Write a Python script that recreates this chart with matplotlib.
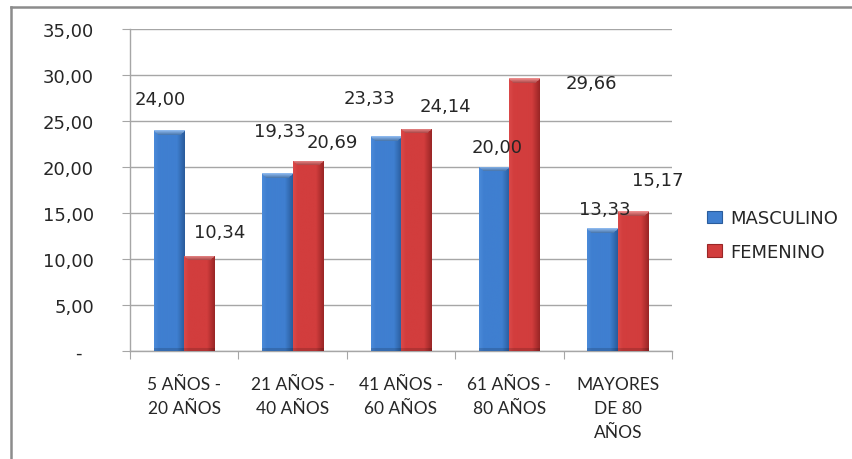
# Distribución por grupo de edad y sexo
import numpy as np
import matplotlib
matplotlib.use('Agg')
import matplotlib.pyplot as plt
from matplotlib.lines import Line2D
from matplotlib.patches import Rectangle
from matplotlib.ticker import FuncFormatter

categorias = ['5 AÑOS -\n20 AÑOS', '21 AÑOS -\n40 AÑOS', '41 AÑOS -\n60 AÑOS',
              '61 AÑOS -\n80 AÑOS', 'MAYORES\nDE 80\nAÑOS']
masculino = [24.00, 19.33, 23.33, 20.00, 13.33]
femenino = [10.34, 20.69, 24.14, 29.66, 15.17]
series = ['MASCULINO', 'FEMENINO']

# desplazamiento de cada etiqueta respecto al centro superior de su barra (px)
off_masc = [(-9, 31), (2, 42), (-16, 38), (3, 20), (2, 19)]
off_fem = [(20, 24), (25, 19), (29, 23), (67, -5), (25, 31)]

azul = ('#5b9ae6', '#3f7fd0', '#2a5c9c')
rojo = ('#e65a5a', '#d23d3d', '#9a2626')


def gradiente(colores, n_filas, n_cols=40, bisel=5):
    # sombreado horizontal tipo Excel + bisel claro arriba
    claro, medio, oscuro = [np.array(matplotlib.colors.to_rgb(c)) for c in colores]
    t = np.linspace(0, 1, n_cols)
    fila = np.empty((n_cols, 3))
    for i, v in enumerate(t):
        if v < 0.15:
            fila[i] = claro * (1 - v / 0.15) * 0.4 + medio * (0.6 + 0.4 * v / 0.15)
        elif v < 0.75:
            fila[i] = medio
        else:
            k = (v - 0.75) / 0.25
            fila[i] = medio * (1 - k) + oscuro * k
    img = np.tile(fila, (n_filas, 1, 1))
    esc = n_cols / 30.0
    for r in range(min(bisel, n_filas)):
        a = int(r * esc)
        img[r, a:n_cols - a] = claro * 0.7 + np.array([1, 1, 1]) * 0.3 * (1 - r / bisel)
    img[-3:] = img[-3:] * 0.85
    return np.clip(img, 0, 1)


fig = plt.figure(figsize=(8.53, 4.60), dpi=100)
ax = fig.add_axes([130 / 853, 1 - 352 / 460, 542 / 853, 322 / 460])

x = np.arange(len(categorias))
ancho = 0.28
b1 = ax.bar(x - ancho / 2, masculino, ancho, color=azul[1], zorder=3, label=series[0])
b2 = ax.bar(x + ancho / 2, femenino, ancho, color=rojo[1], zorder=3, label=series[1])

px_por_unidad = 322 / 35

for barras, cols in ((b1, azul), (b2, rojo)):
    for b in barras:
        x0, w, h = b.get_x(), b.get_width(), b.get_height()
        im = ax.imshow(gradiente(cols, max(int(round(h * px_por_unidad)), 2)),
                       extent=[x0, x0 + w, 0, h], aspect='auto', zorder=4,
                       interpolation='bilinear')
        im.set_clip_path(b)

ax.set_xlim(-0.5, len(categorias) - 0.5)
ax.set_ylim(0, 35)

for barras, vals, offs in ((b1, masculino, off_masc), (b2, femenino, off_fem)):
    for b, v, (dx, dy) in zip(barras, vals, offs):
        ax.annotate(f'{v:.2f}'.replace('.', ','),
                    (b.get_x() + b.get_width() / 2, v),
                    xytext=(dx, dy), textcoords='offset pixels',
                    ha='center', va='center', fontsize=13,
                    fontfamily='DejaVu Sans', color='#262626', zorder=6)

ax.set_yticks(np.arange(0, 36, 5))
ax.yaxis.set_major_formatter(FuncFormatter(
    lambda v, p: '-  ' if v == 0 else f'{v:.2f}'.replace('.', ',')))
ax.grid(axis='y', color='#a6a6a6', linewidth=1.0, zorder=0)
ax.set_axisbelow(True)

ax.set_xticks(np.arange(-0.5, len(categorias), 1.0))
ax.set_xticklabels([])
ax.set_xticks(x, minor=True)
ax.set_xticklabels(categorias, minor=True, family='Lato', fontsize=12.5,
                   color='#262626', linespacing=1.6, va='top')
ax.tick_params(axis='x', which='minor', length=0, pad=18)
ax.tick_params(axis='x', which='major', length=6, color='#a6a6a6')
ax.tick_params(axis='y', length=6, color='#a6a6a6', pad=20,
               labelsize=13, labelcolor='#262626')
for lbl in ax.get_yticklabels():
    lbl.set_family('DejaVu Sans')

for s in ('top', 'right'):
    ax.spines[s].set_visible(False)
for s in ('left', 'bottom'):
    ax.spines[s].set_color('#a6a6a6')
    ax.spines[s].set_linewidth(1.0)

manijas = [Rectangle((0, 0), 1, 1, facecolor=azul[1], edgecolor=azul[2], linewidth=0.8),
           Rectangle((0, 0), 1, 1, facecolor=rojo[1], edgecolor=rojo[2], linewidth=0.8)]
fig.legend(manijas, series, loc='center left', bbox_to_anchor=(691 / 853, 1 - 236 / 460),
           frameon=False, handlelength=0.8, handleheight=0.7, handletextpad=0.45,
           labelspacing=0.85, prop={'family': 'DejaVu Sans', 'size': 13},
           labelcolor='#262626')

# marco exterior del gráfico
fig.add_artist(Line2D([11 / 853, 11 / 853], [0, 1 - 8 / 460], transform=fig.transFigure,
                      color='#8c8c8c', linewidth=1.8))
fig.add_artist(Line2D([11 / 853, 1], [1 - 8 / 460, 1 - 8 / 460], transform=fig.transFigure,
                      color='#8c8c8c', linewidth=1.8))

fig.savefig('out.png', dpi=100)
